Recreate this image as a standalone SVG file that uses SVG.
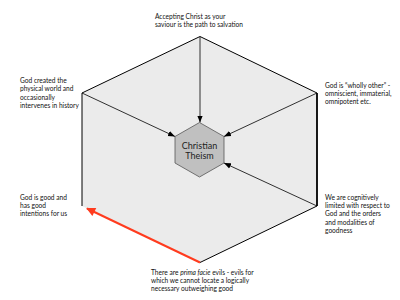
<svg xmlns="http://www.w3.org/2000/svg" width="400" height="300" viewBox="0 0 400 300">
<style>
.t{font-family:Lato,"Open Sans",sans-serif;font-size:6.6px;fill:#111}
.c{font-family:Lato,"Open Sans",sans-serif;font-size:9px;fill:#222;text-anchor:middle}
.e{stroke:#000;stroke-width:1;fill:none}
.a{stroke:#000;stroke-width:0.8;fill:none;marker-end:url(#ah)}
</style>
<defs>
<marker id="ah" viewBox="0 0 10 10" refX="10" refY="5" markerWidth="7" markerHeight="7" markerUnits="userSpaceOnUse" orient="auto">
<path d="M0,1 L10,5 L0,9 z" fill="#000"/>
</marker>
<marker id="rh" viewBox="0 0 10 10" refX="9" refY="5" markerWidth="10" markerHeight="9" markerUnits="userSpaceOnUse" orient="auto">
<path d="M0,0 L10,5 L0,10 z" fill="#ff3b1e"/>
</marker>
</defs>
<g id="frame">
<polygon points="200,36.5 82,93 82,206 200,262.5 317,206 317,93" fill="#ebebeb" stroke="none"/>
<polyline class="e" points="82,206 82,93 200,36.5 317,93"/>
<line x1="317" y1="93" x2="317" y2="206" stroke="#000" stroke-width="1.8"/>
<line class="e" x1="317" y1="206" x2="200" y2="262.5"/>
</g>
<g id="connectors">
<line class="a" x1="200" y1="37" x2="200" y2="122.5"/>
<line class="a" x1="82" y1="93" x2="175" y2="136.5"/>
<line class="a" x1="317" y1="93" x2="224" y2="136.5"/>
<line class="a" x1="317" y1="206" x2="224" y2="163"/>
<line x1="200" y1="262.5" x2="87" y2="208.5" stroke="#ff3b1e" stroke-width="2" marker-end="url(#rh)"/>
</g>
<g id="center">
<polygon points="199.5,122.5 224,136.5 224,163 199.5,177 175,163 175,136.5" fill="#c0c0c0" stroke="#555" stroke-width="0.8"/>
<text class="c" x="199.5" y="148.5">Christian</text>
<text class="c" x="199.5" y="158.5">Theism</text>
</g>
<g id="n-top">
<text class="t" x="155" y="18.5">Accepting Christ as your</text>
<text class="t" x="155" y="26.8">saviour is the path to salvation</text>
</g>
<g id="n-upper-left">
<text class="t" x="20" y="83">God created the</text>
<text class="t" x="20" y="91.3">physical world and</text>
<text class="t" x="20" y="99.6">occasionally</text>
<text class="t" x="20" y="107.9">intervenes in history</text>
</g>
<g id="n-upper-right">
<text class="t" x="325" y="88">God is “wholly other” -</text>
<text class="t" x="325" y="96">omniscient, immaterial,</text>
<text class="t" x="325" y="104">omnipotent etc.</text>
</g>
<g id="n-lower-left">
<text class="t" x="20" y="200">God is good and</text>
<text class="t" x="20" y="208">has good</text>
<text class="t" x="20" y="216">intentions for us</text>
</g>
<g id="n-lower-right">
<text class="t" x="325" y="200">We are cognitively</text>
<text class="t" x="325" y="208.2">limited with respect to</text>
<text class="t" x="325" y="216.4">God and the orders</text>
<text class="t" x="325" y="224.6">and modalities of</text>
<text class="t" x="325" y="232.8">goodness</text>
</g>
<g id="n-bottom">
<text class="t" x="151" y="275">There are <tspan font-style="italic">prima facie</tspan> evils - evils for</text>
<text class="t" x="151" y="283.2">which we cannot locate a logically</text>
<text class="t" x="151" y="291.4">necessary outweighing good</text>
</g>
</svg>
